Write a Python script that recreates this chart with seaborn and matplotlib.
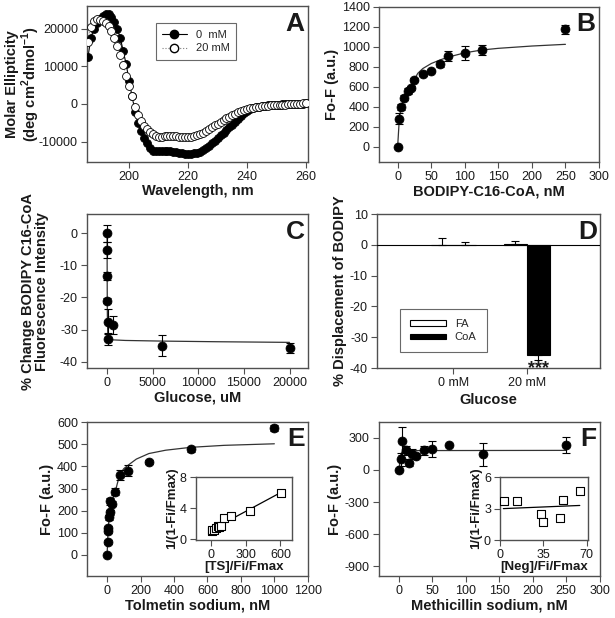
import numpy as np
import pandas as pd
import matplotlib
matplotlib.use("Agg")
import matplotlib.pyplot as plt
import seaborn as sns
from matplotlib.lines import Line2D
from matplotlib.patches import Patch

# ---- panel A: CD spectra (1 nm steps) ----
wavelength = list(range(186, 261))
cd_0mm = [12400, 17500, 20000, 21500, 22500, 23500, 24000, 23800, 23000, 21800,
          20000, 17500, 14000, 10500, 6000, 2000, -2000, -5000, -7300, -9000,
          -10500, -11700, -12400, -12600, -12600, -12500, -12500, -12500, -12600, -12700,
          -12800, -12900, -13100, -13300, -13400, -13300, -13100, -12900, -12700, -12300,
          -11800, -11200, -10500, -9800, -9000, -8300, -7600, -6900, -6200, -5500,
          -4700, -3900, -3100, -2400, -1800, -1400, -1100, -900, -750, -600,
          -500, -400, -300, -250, -200, -150, -100, -50, 0, 0,
          50, 50, 100, 100, 150]
cd_20mm = [16500, 20500, 22000, 22500, 22300, 22000, 21500, 20800, 19500, 17500,
           15500, 13000, 10300, 7500, 4800, 2000, -800, -2800, -4500, -5800,
           -6700, -7500, -8100, -8500, -8700, -8700, -8600, -8500, -8500, -8500,
           -8600, -8700, -8800, -8900, -8900, -8800, -8600, -8300, -8000, -7600,
           -7200, -6700, -6200, -5700, -5200, -4700, -4300, -3800, -3400, -3000,
           -2600, -2200, -1900, -1600, -1300, -1100, -950, -850, -750, -650,
           -550, -450, -400, -350, -300, -250, -200, -150, -100, -50,
           0, 50, 100, 150, 200]

# ---- panel B ----
bodipy_nm = [0, 2.5, 5, 10, 15, 20, 25, 37.5, 50, 62.5, 75, 100, 125, 250]
bodipy_f = [0, 283, 400, 490, 560, 593, 673, 727, 757, 830, 907, 942, 967, 1177]
bodipy_err = [0, 55, 33, 25, 30, 20, 15, 15, 10, 30, 50, 70, 50, 45]
bodipy_fit_x = [0, 2.5, 5, 10, 15, 20, 25, 30, 37.5, 50, 62.5, 75, 100, 125, 150, 200, 250]
bodipy_fit_y = [0, 280, 395, 485, 555, 600, 675, 735, 783, 833, 867, 897, 940, 968, 985, 1008, 1025]

# ---- panel C ----
glucose_um = [0, 1, 5, 10, 50, 100, 600, 6000, 20000]
glucose_change = [0, -5.2, -13.4, -21, -27.5, -33, -28.5, -35, -35.8]
glucose_err = [2.7, 2.5, 1.3, 0.8, 4, 1.8, 2.8, 3.4, 1.5]
glucose_fit_x = [0, 5, 10, 20, 40, 80, 150, 500, 2000, 6000, 12000, 20000]
glucose_fit_y = [0, -8, -14, -22, -28, -31.5, -32.8, -33.2, -33.4, -33.6, -33.8, -34.0]

# ---- panel D ----
d_glucose = ["0 mM", "0 mM", "20 mM", "20 mM"]
d_ligand = ["FA", "CoA", "FA", "CoA"]
d_value = [0.0, 0.0, 0.3, -35.8]
d_err_low = [0, 0, 0, 1.5]
d_err_high = [2.4, 1.0, 1.0, 0]

# ---- panel E ----
tolmetin_nm = [0, 2.5, 5, 7.5, 10, 15, 20, 30, 50, 75, 125, 250, 500, 1000]
tolmetin_f = [0, 58, 110, 120, 170, 192, 242, 232, 286, 362, 380, 420, 477, 573]
tolmetin_err = [0, 8, 12, 10, 10, 12, 15, 10, 15, 22, 25, 8, 12, 15]
tolmetin_fit_x = [0, 5, 10, 20, 30, 50, 75, 100, 125, 175, 250, 350, 500, 700, 1000]
tolmetin_fit_y = [0, 95, 150, 210, 245, 290, 362, 390, 405, 433, 458, 473, 486, 495, 502]
ts_inset_x = [8, 14, 30, 44, 59, 74, 89, 112, 178, 341, 602]
ts_inset_y = [1.1, 1.26, 1.2, 1.47, 1.77, 1.6, 1.77, 2.74, 2.95, 3.7, 5.98]
ts_line_x = [10, 600]
ts_line_y = [1.25, 6.0]

# ---- panel F ----
methicillin_nm = [0, 2.5, 5, 10, 15, 20, 25, 37.5, 50, 75, 125, 250]
methicillin_f = [0, 99, 270, 181, 68, 150, 134, 181, 197, 235, 145, 232]
methicillin_err = [0, 60, 130, 40, 35, 45, 25, 40, 75, 0, 110, 72]
methicillin_fit_x = [0, 3, 6, 250]
methicillin_fit_y = [0, 150, 180, 182]
neg_inset_x = [3.5, 13.4, 33.5, 34.9, 48.3, 51, 64.4]
neg_inset_y = [3.7, 3.68, 2.49, 1.77, 2.1, 3.84, 4.68]
neg_line_x = [2.7, 64.4]
neg_line_y = [3.0, 3.3]

sns.set_theme(style="ticks")
plt.rcParams["font.family"] = ["Liberation Sans", "DejaVu Sans"]
plt.rcParams["axes.unicode_minus"] = False
plt.rcParams["mathtext.fontset"] = "custom"
plt.rcParams["mathtext.rm"] = "Liberation Sans:bold"
plt.rcParams["mathtext.bf"] = "Liberation Sans:bold"

TXT = "#1a1a1a"
SP = "#505050"
LAB = dict(fontsize=10.5, fontweight="bold", color=TXT)


def style_axes(ax, letter=None, labelsize=9):
    for s in ax.spines.values():
        s.set_visible(True)
        s.set_color(SP)
        s.set_linewidth(1.0)
    ax.tick_params(direction="out", length=4, width=0.8, colors=SP,
                   labelcolor=TXT, labelsize=labelsize, pad=2.5)
    if letter:
        ax.text(0.985, 0.965, letter, transform=ax.transAxes, ha="right",
                va="top", fontsize=19, fontweight="bold", color=TXT)


def points_with_err(ax, x, y, err, size=42):
    ax.errorbar(x, y, yerr=err, fmt="none", ecolor="black", elinewidth=0.8,
                capsize=3, capthick=0.8, zorder=2)
    sns.scatterplot(x=x, y=y, ax=ax, color="black", s=size, edgecolor="black",
                    linewidth=0.5, zorder=3)


fig = plt.figure(figsize=(6.15, 6.18), dpi=100)

# ---------- A ----------
axA = fig.add_axes([0.1415, 0.738, 0.359, 0.252])
sns.lineplot(x=wavelength, y=cd_0mm, ax=axA, color="black", lw=0.8, sort=False)
sns.scatterplot(x=wavelength, y=cd_0mm, ax=axA, color="black", s=32,
                edgecolor="black", linewidth=0.6, zorder=3)
sns.lineplot(x=wavelength, y=cd_20mm, ax=axA, color="gray", lw=0.8,
             linestyle=":", sort=False)
sns.scatterplot(x=wavelength, y=cd_20mm, ax=axA, color="white", s=32,
                edgecolor="black", linewidth=0.6, zorder=4)
axA.set_xlim(185.7, 260.6)
axA.set_ylim(-15400, 26000)
axA.set_xticks([200, 220, 240, 260])
axA.set_yticks([-10000, 0, 10000, 20000])
axA.set_xlabel("Wavelength, nm", **LAB, labelpad=1)
axA.set_ylabel("Molar Ellipticity\n(deg cm$^2$dmol$^{-1}$)", **LAB, linespacing=1.05)
axA.yaxis.set_label_coords(-0.205, 0.5)
handles = [Line2D([0], [0], color="black", lw=0.8, marker="o", ms=6,
                  mfc="black", mec="black", label="0  mM"),
           Line2D([0], [0], color="gray", lw=0.8, ls=":", marker="o", ms=6,
                  mfc="white", mec="black", label="20 mM")]
legA = axA.legend(handles=handles, loc="upper left", bbox_to_anchor=(0.285, 0.925),
                  fontsize=8, frameon=True, fancybox=False, edgecolor="#444444",
                  handlelength=2.2, borderpad=0.6, labelspacing=0.3)
legA.get_frame().set_linewidth(0.8)
style_axes(axA, "A")

# ---------- B ----------
axB = fig.add_axes([0.616, 0.738, 0.358, 0.251])
sns.lineplot(x=bodipy_fit_x, y=bodipy_fit_y, ax=axB, color="#333333", lw=0.9)
points_with_err(axB, bodipy_nm, bodipy_f, bodipy_err)
axB.set_xlim(-28, 300)
axB.set_ylim(-150, 1400)
axB.set_xticks(range(0, 301, 50))
axB.set_yticks(range(0, 1401, 200))
axB.set_xlabel("BODIPY-C16-CoA, nM", **LAB, labelpad=1)
axB.set_ylabel("Fo-F (a.u.)", **LAB, labelpad=2)
style_axes(axB, "B")

# ---------- C ----------
axC = fig.add_axes([0.1415, 0.4045, 0.359, 0.249])
sns.lineplot(x=glucose_fit_x, y=glucose_fit_y, ax=axC, color="#333333", lw=0.9)
points_with_err(axC, glucose_um, glucose_change, glucose_err)
axC.set_xlim(-2200, 22000)
axC.set_ylim(-42, 6)
axC.set_xticks(range(0, 20001, 5000))
axC.set_yticks(range(-40, 1, 10))
axC.set_xlabel("Glucose, uM", **LAB, labelpad=1)
axC.set_ylabel("% Change BODIPY C16-CoA\nFluorescence Intensity", **LAB,
               linespacing=1.05)
axC.yaxis.set_label_coords(-0.17, 0.5)
style_axes(axC, "C")

# ---------- D ----------
axD = fig.add_axes([0.613, 0.4045, 0.363, 0.249])
dfD = pd.DataFrame({"glucose": d_glucose, "ligand": d_ligand, "value": d_value,
                    "lo": d_err_low, "hi": d_err_high})
sns.barplot(data=dfD, x="glucose", y="value", hue="ligand",
            hue_order=["FA", "CoA"], order=["0 mM", "20 mM"],
            palette={"FA": "white", "CoA": "black"}, edgecolor="black",
            linewidth=0.8, width=0.62, errorbar=None, legend=False, ax=axD)
for cont, lig in zip(axD.containers, ["FA", "CoA"]):
    for bar, conc in zip(cont, ["0 mM", "20 mM"]):
        row = dfD[(dfD.ligand == lig) & (dfD.glucose == conc)].iloc[0]
        xc = bar.get_x() + bar.get_width() / 2
        axD.errorbar([xc], [row.value], yerr=[[row.lo], [row.hi]], fmt="none",
                     ecolor="black", elinewidth=0.8, capsize=3, capthick=0.8)
axD.axhline(0, color="black", lw=0.8, zorder=5)
axD.text(1.16, -41.8, "***", ha="center", va="baseline", fontsize=13,
         fontweight="bold", color=TXT, clip_on=False)
axD.set_xlim(-1.04, 2.0)
axD.set_ylim(-40, 10)
axD.set_yticks(range(-40, 11, 10))
axD.set_xlabel("Glucose", **LAB, labelpad=3)
axD.set_ylabel("% Displacement of BODIPY", **LAB, labelpad=2)
legD = axD.legend(handles=[Patch(facecolor="white", edgecolor="black", lw=0.8, label="FA"),
                           Patch(facecolor="black", edgecolor="black", lw=0.8, label="CoA")],
                  loc="lower left", bbox_to_anchor=(0.08, 0.065), fontsize=8,
                  frameon=True, fancybox=False, edgecolor="#444444",
                  handlelength=3.2, handleheight=0.45, borderpad=0.9,
                  labelspacing=0.35)
legD.get_frame().set_linewidth(0.8)
style_axes(axD, "D")

# ---------- E ----------
axE = fig.add_axes([0.1415, 0.068, 0.359, 0.249])
sns.lineplot(x=tolmetin_fit_x, y=tolmetin_fit_y, ax=axE, color="#333333", lw=0.9)
points_with_err(axE, tolmetin_nm, tolmetin_f, tolmetin_err)
axE.set_xlim(-120, 1200)
axE.set_ylim(-95, 600)
axE.set_xticks(range(0, 1201, 200))
axE.set_yticks(range(0, 601, 100))
axE.set_xlabel("Tolmetin sodium, nM", **LAB, labelpad=1)
axE.set_ylabel("Fo-F (a.u.)", **LAB, labelpad=2)
style_axes(axE, "E")

axEi = fig.add_axes([0.318, 0.126, 0.157, 0.102])
sns.lineplot(x=ts_line_x, y=ts_line_y, ax=axEi, color="black", lw=0.9)
sns.scatterplot(x=ts_inset_x, y=ts_inset_y, ax=axEi, marker="s", color="white",
                s=38, edgecolor="black", linewidth=0.8, zorder=3)
axEi.set_xlim(-130, 700)
axEi.set_ylim(-0.1, 8)
axEi.set_xticks([0, 300, 600])
axEi.set_yticks([0, 4, 8])
axEi.set_xlabel("[TS]/Fi/Fmax", fontsize=9.5, fontweight="bold", color=TXT, labelpad=0)
axEi.set_ylabel("1/(1-Fi/Fmax)", fontsize=9.5, fontweight="bold", color=TXT, labelpad=1)
style_axes(axEi, labelsize=9)

# ---------- F ----------
axF = fig.add_axes([0.616, 0.068, 0.359, 0.249])
sns.lineplot(x=methicillin_fit_x, y=methicillin_fit_y, ax=axF, color="#333333", lw=0.9)
points_with_err(axF, methicillin_nm, methicillin_f, methicillin_err)
axF.set_xlim(-30, 300)
axF.set_ylim(-990, 446)
axF.set_xticks(range(0, 301, 50))
axF.set_yticks(range(-900, 301, 300))
axF.set_xlabel("Methicillin sodium, nM", **LAB, labelpad=1)
axF.set_ylabel("Fo-F (a.u.)", **LAB, labelpad=2)
style_axes(axF, "F")

axFi = fig.add_axes([0.813, 0.126, 0.143, 0.102])
sns.lineplot(x=neg_line_x, y=neg_line_y, ax=axFi, color="black", lw=0.9)
sns.scatterplot(x=neg_inset_x, y=neg_inset_y, ax=axFi, marker="s", color="white",
                s=38, edgecolor="black", linewidth=0.8, zorder=3)
axFi.set_xlim(0, 71)
axFi.set_ylim(0, 6)
axFi.set_xticks([0, 35, 70])
axFi.set_yticks([0, 3, 6])
axFi.set_xlabel("[Neg]/Fi/Fmax", fontsize=9.5, fontweight="bold", color=TXT, labelpad=0)
axFi.set_ylabel("1/(1-Fi/Fmax)", fontsize=9.5, fontweight="bold", color=TXT, labelpad=1)
style_axes(axFi, labelsize=9)

fig.savefig("out.png", dpi=100, facecolor="white")
